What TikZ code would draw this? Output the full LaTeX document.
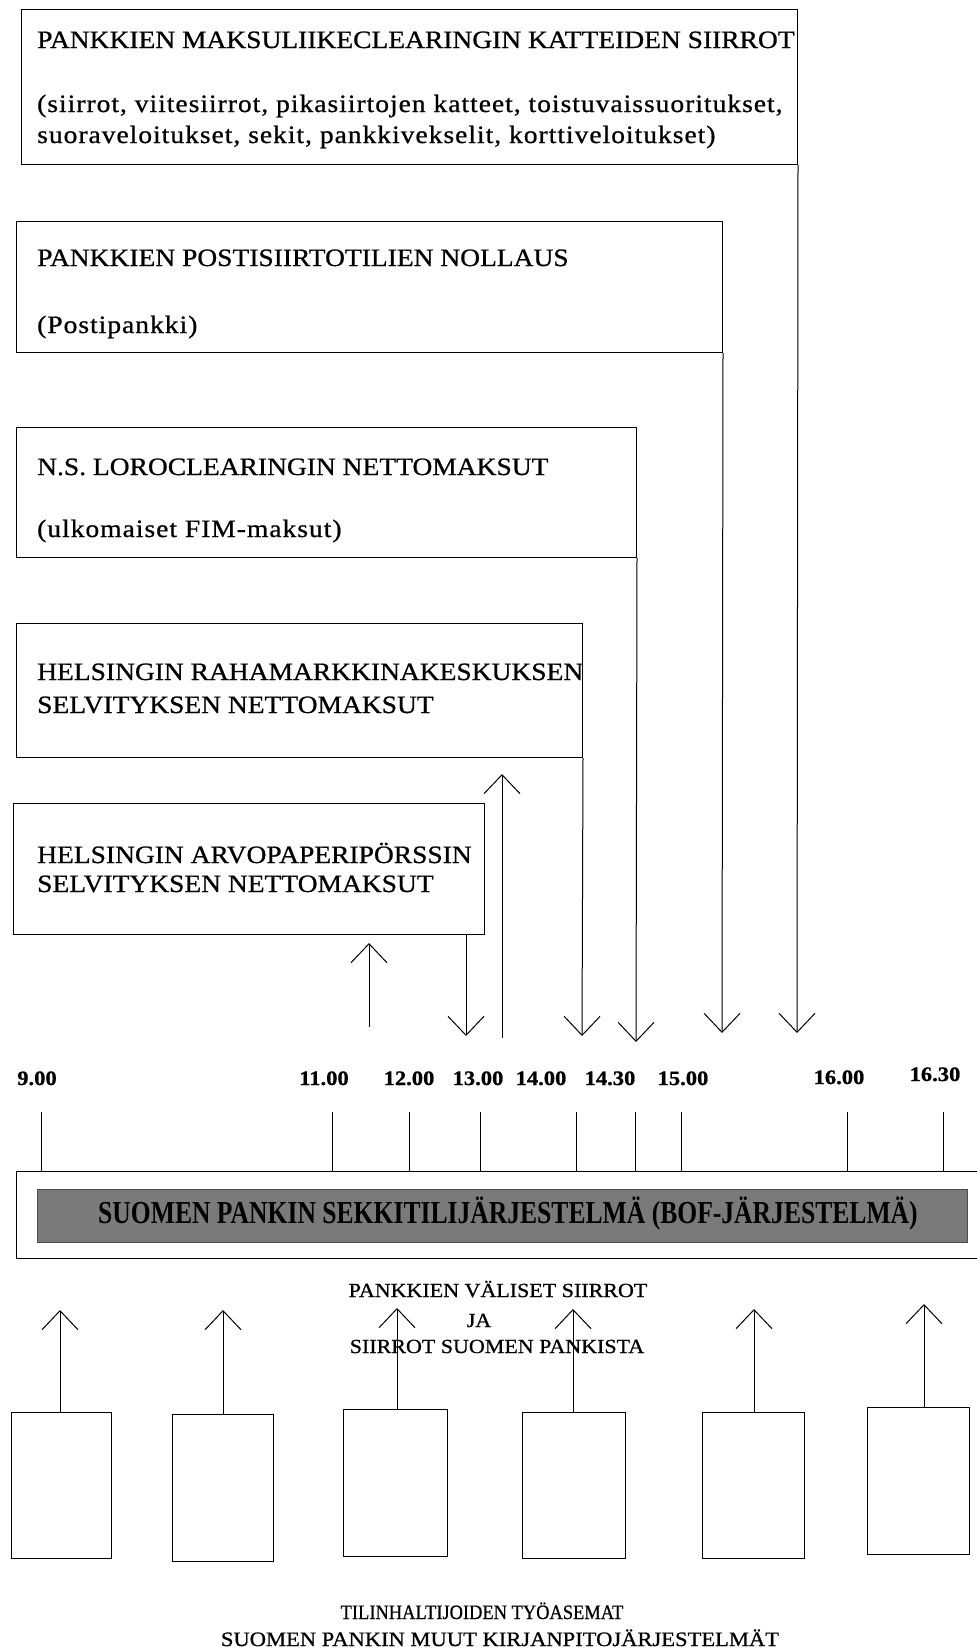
\documentclass[tikz,border=0pt]{standalone}
\usepackage{fontspec}
\setmainfont{Liberation Serif}[FakeStretch=1.1, FakeBold=0.8]
\newfontfamily\lowfont{Liberation Serif}[FakeStretch=1.1, FakeBold=0.8, LetterSpace=4]
\newfontfamily\condfont{Liberation Serif}[FakeStretch=0.8]
\newfontfamily\narrowfont{Liberation Serif}[FakeStretch=0.9, FakeBold=0.6]
\usetikzlibrary{arrows.meta}
\tikzset{
  box/.style={draw, line width=1pt, rectangle, inner sep=0pt, anchor=north west},
  bt/.style={anchor=base west, inner sep=0pt, font=\fontsize{25}{28}\selectfont},
  lt/.style={anchor=base west, inner sep=0pt, font=\lowfont\fontsize{25}{28}\selectfont},
  tl/.style={anchor=base, inner sep=0pt, font=\bfseries\fontsize{20.5}{23}\selectfont},
  mt/.style={anchor=base, inner sep=0pt, font=\fontsize{20}{24}\selectfont},
  arr/.style={line width=1pt, -{Straight Barb[length=19pt,width=36pt]}},
  ln/.style={line width=1pt},
}
\begin{document}
\begin{tikzpicture}[x=1pt,y=-1pt]
\useasboundingbox (0,0) rectangle (977,1652);
% upper boxes
\node[box, minimum width=776pt, minimum height=155pt] (b1) at (21,9) {};
\node[box, minimum width=706pt, minimum height=131pt] (b2) at (16,221) {};
\node[box, minimum width=620pt, minimum height=130pt] (b3) at (16,427) {};
\node[box, minimum width=566pt, minimum height=134pt] (b4) at (16,623) {};
\node[box, minimum width=471pt, minimum height=131pt] (b5) at (13,803) {};
% box texts
\node[bt] (b1a) at (37,48) {PANKKIEN MAKSULIIKECLEARINGIN KATTEIDEN SIIRROT};
\node[lt] (b1b) at (37,112) {(siirrot, viitesiirrot, pikasiirtojen katteet, toistuvaissuoritukset,};
\node[lt] (b1c) at (37,143) {suoraveloitukset, sekit, pankkivekselit, korttiveloitukset)};
\node[bt] (b2a) at (37,266) {PANKKIEN POSTISIIRTOTILIEN NOLLAUS};
\node[lt] (b2b) at (37,333) {(Postipankki)};
\node[bt] (b3a) at (37,475) {N.S. LOROCLEARINGIN NETTOMAKSUT};
\node[lt] (b3b) at (37,537) {(ulkomaiset FIM-maksut)};
\node[bt] (b4a) at (37,680) {HELSINGIN RAHAMARKKINAKESKUKSEN};
\node[bt] (b4b) at (37,713) {SELVITYKSEN NETTOMAKSUT};
\node[bt] (b5a) at (37,863) {HELSINGIN ARVOPAPERIPÖRSSIN};
\node[bt] (b5b) at (37,892) {SELVITYKSEN NETTOMAKSUT};
% arrow end points
\coordinate (e1) at (797,1033);
\coordinate (e2) at (722,1033);
\coordinate (e3) at (636,1042);
\coordinate (e4) at (582,1036);
\coordinate (e5) at (466,1036);
\coordinate (u4s) at (502,1038);
\coordinate (u4e) at (502,774);
\coordinate (u5s) at (369,1027);
\coordinate (u5e) at (369,943);
\draw[arr] (b1.south east) -- (e1);
\draw[arr] (b2.south east) -- (e2);
\draw[arr] (b3.south east) -- (e3);
\draw[arr] (b4.south east) -- (e4);
\draw[arr] (b5.south -| e5) -- (e5);
\draw[arr] (u4s) -- (u4e);
\draw[arr] (u5s) -- (u5e);
% BOF system box
\node[box, minimum width=975pt, minimum height=87pt] (bof) at (16,1171) {};
\node[box, draw=black!70, line width=0.6pt, fill=black!52, minimum width=930pt, minimum height=53pt] (shade) at (37,1189) {};
\node[anchor=base, inner sep=0pt, font=\condfont\bfseries\fontsize{32}{36}\selectfont] (boft) at (508,1223) {SUOMEN PANKIN SEKKITILIJÄRJESTELMÄ (BOF-JÄRJESTELMÄ)};
% time labels
\node[tl] (t900) at (37,1085) {9.00};
\node[tl] (t1100) at (324,1085) {11.00};
\node[tl] (t1200) at (409,1085) {12.00};
\node[tl] (t1300) at (478,1085) {13.00};
\node[tl] (t1400) at (541,1085) {14.00};
\node[tl] (t1430) at (610,1085) {14.30};
\node[tl] (t1500) at (683,1085) {15.00};
\node[tl] (t1600) at (839,1084) {16.00};
\node[tl] (t1630) at (935,1081) {16.30};
% ticks
\foreach \x/\n in {41/a,332/b,409/c,480/d,576/e,635/f,681/g,847/h,943/i} {
  \coordinate (k\n) at (\x,1112);
  \draw[ln] (k\n) -- (k\n |- bof.north);
}
% middle texts
\node[mt] (m1) at (498,1297) {PANKKIEN VÄLISET SIIRROT};
\node[mt] (m2) at (479,1327) {JA};
\node[mt] (m3) at (497,1353) {SIIRROT SUOMEN PANKISTA};
% workstation boxes
\node[box, minimum width=100pt, minimum height=146pt] (w1) at (11,1412) {};
\node[box, minimum width=101pt, minimum height=147pt] (w2) at (172,1414) {};
\node[box, minimum width=104pt, minimum height=147pt] (w3) at (343,1409) {};
\node[box, minimum width=103pt, minimum height=146pt] (w4) at (522,1412) {};
\node[box, minimum width=102pt, minimum height=146pt] (w5) at (702,1412) {};
\node[box, minimum width=102pt, minimum height=147pt] (w6) at (867,1407) {};
\coordinate (p1) at (60,1310);
\coordinate (p2) at (223,1310);
\coordinate (p3) at (397,1308);
\coordinate (p4) at (573,1309);
\coordinate (p5) at (754,1309);
\coordinate (p6) at (924,1304);
\foreach \i in {1,...,6} {
  \draw[arr] (w\i.north -| p\i) -- (p\i);
}
% bottom texts
\node[anchor=base, inner sep=0pt, font=\narrowfont\fontsize{20.5}{24}\selectfont] (z1) at (482,1619) {TILINHALTIJOIDEN TYÖASEMAT};
\node[anchor=base, inner sep=0pt, font=\fontsize{20.5}{24}\selectfont] (z2) at (500,1646) {SUOMEN PANKIN MUUT KIRJANPITOJÄRJESTELMÄT};
\end{tikzpicture}
\end{document}
